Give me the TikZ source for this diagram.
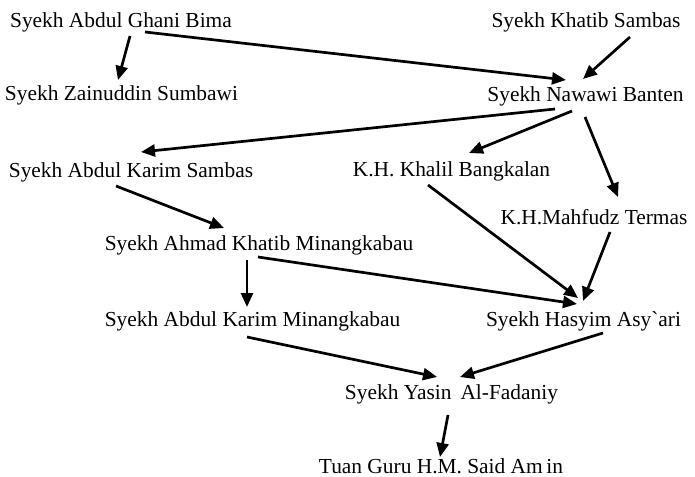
\documentclass[tikz,border=0pt]{standalone}
\usepackage{fontspec}
\setmainfont{Liberation Serif}
\usepackage{xcolor}
\definecolor{cMain}{HTML}{000000}
\usepackage{tikz}
\usetikzlibrary{arrows.meta,calc}
\tikzset{
  node-name/.style={anchor=base,inner sep=0pt,font=\fontsize{10.7}{12}\selectfont,text=cMain},
  arrow/.style={-{Triangle[length=7pt,width=6pt]},line width=1.35pt,draw=cMain},
}
\begin{document}
\begin{tikzpicture}[x=0.5pt,y=-0.5pt]
  \useasboundingbox (0,0) rectangle (695,476);
  % nama guru, baris demi baris
  \node[node-name] (ghani)   at (121,27.5)   {Syekh Abdul Ghani Bima};
  \node[node-name] (khatib)  at (586,28)     {Syekh Khatib Sambas};
  \node[node-name] (zain)    at (121.5,100)  {Syekh Zainuddin Sumbawi};
  \node[node-name] (nawawi)  at (585.5,102)  {Syekh Nawawi Banten};
  \node[node-name] (aks)     at (131,177)    {Syekh Abdul Karim Sambas};
  \node[node-name] (khalil)  at (451.5,176)  {K.H. Khalil Bangkalan};
  \node[node-name] (mahfudz) at (594,224)    {K.H.Mahfudz Termas};
  \node[node-name] (ahmad)   at (259,250)    {Syekh Ahmad Khatib Minangkabau};
  \node[node-name] (akm)     at (252.5,326)  {Syekh Abdul Karim Minangkabau};
  \node[node-name] (hasyim)  at (583.5,326)  {Syekh Hasyim Asy\textasciigrave ari};
  \node[node-name] (yasin)   at (451.5,399)  {Syekh Yasin\ \,Al-Fadaniy};
  \node[node-name] (tuan)    at (441,473)    {Tuan Guru H.M. Said Am\,in};
  % sanad
  \draw[arrow] ($(ghani.base)+(9,8.5)$)      -- ($(zain.base)+(-3.5,-20)$);
  \draw[arrow] ($(ghani.base)+(24,4.5)$)     -- ($(nawawi.base)+(-19.5,-22)$);
  \draw[arrow] ($(khatib.base)+(44,9)$)      -- ($(nawawi.base)+(-2.5,-23)$);
  \draw[arrow] ($(nawawi.base)+(-30.5,7)$)   -- ($(aks.base)+(10,-25)$);
  \draw[arrow] ($(nawawi.base)+(-13.5,9)$)   -- ($(khalil.base)+(17.5,-23)$);
  \draw[arrow] ($(nawawi.base)+(-0.5,15)$)   -- ($(mahfudz.base)+(24,-27)$);
  \draw[arrow] ($(aks.base)+(-15,9)$)        -- ($(ahmad.base)+(-35,-22)$);
  \draw[arrow] ($(khalil.base)+(-23.5,9)$)   -- ($(hasyim.base)+(-5.5,-28)$);
  \draw[arrow] ($(mahfudz.base)+(16,8)$)     -- ($(hasyim.base)+(-0.5,-25)$);
  \draw[arrow] ($(ahmad.base)+(-1,7)$)       -- ($(hasyim.base)+(-6.5,-22)$);
  \draw[arrow] ($(ahmad.base)+(-12,10)$)     -- ($(akm.base)+(-5.5,-19)$);
  \draw[arrow] ($(akm.base)+(-5.5,11)$)      -- ($(yasin.base)+(-14.5,-22)$);
  \draw[arrow] ($(hasyim.base)+(19.5,7)$)    -- ($(yasin.base)+(8.5,-22)$);
  \draw[arrow] ($(yasin.base)+(-3.5,16)$)    -- ($(tuan.base)+(-1,-16)$);
\end{tikzpicture}
\end{document}
